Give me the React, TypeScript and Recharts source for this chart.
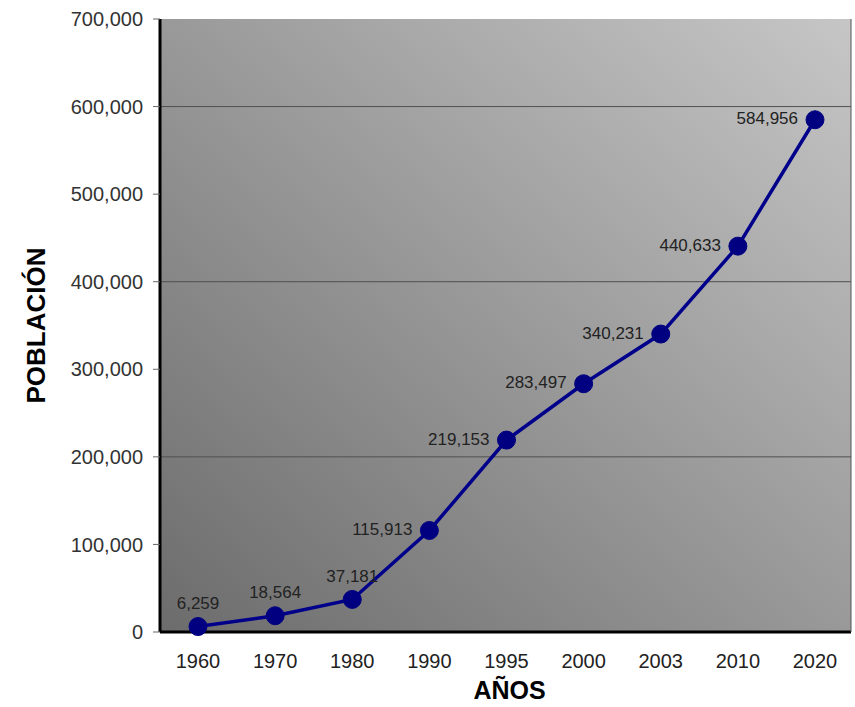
import React from 'react';
import { LineChart, Line, XAxis, YAxis, CartesianGrid, LabelList } from 'recharts';

const years = ['1960', '1970', '1980', '1990', '1995', '2000', '2003', '2010', '2020'];
const population = [6259, 18564, 37181, 115913, 219153, 283497, 340231, 440633, 584956];
const yTicks = [0, 100000, 200000, 300000, 400000, 500000, 600000, 700000];
const gridValues = [200000, 400000, 600000];
const aboveLabels = ['1960', '1970', '1980'];

const data = years.map((y, i) => ({ year: y, value: population[i] }));

const fmt = (v: number) => v.toLocaleString('en-US');
const FONT = 'Arial, "Liberation Sans", sans-serif';

const PointLabel = (props: any) => {
  const { x, y, value, index } = props;
  const yr = years[index];
  if (aboveLabels.includes(yr)) {
    return (
      <text x={x} y={y - 22} textAnchor="middle" dominantBaseline="middle" fontSize={17} fill="#222" fontFamily={FONT}>
        {fmt(value)}
      </text>
    );
  }
  return (
    <text x={x - 17} y={y} textAnchor="end" dominantBaseline="middle" fontSize={17} fill="#222" fontFamily={FONT}>
      {fmt(value)}
    </text>
  );
};

const YLabel = (props: any) => {
  const vb = props.viewBox || {};
  const cy = vb.y + vb.height / 2;
  return (
    <text x={38} y={cy} transform={`rotate(-90, 38, ${cy})`} textAnchor="middle" dominantBaseline="middle" fontSize={26} fontWeight="bold" fill="#000" fontFamily={FONT}>
      POBLACIÓN
    </text>
  );
};

const XLabel = (props: any) => {
  const vb = props.viewBox || {};
  const cx = vb.x + vb.width / 2;
  return (
    <text x={cx + 4} y={692} textAnchor="middle" dominantBaseline="middle" fontSize={25} fontWeight="bold" fill="#000" fontFamily={FONT}>
      AÑOS
    </text>
  );
};

export default function App() {
  return (
    <div style={{ position: 'absolute', left: 0, top: 0, width: 855, height: 707, background: '#fff' }}>
      <LineChart width={855} height={707} data={data} margin={{ top: 19, right: 2, bottom: 0, left: 0 }}>
        <defs>
          <linearGradient id="bg" x1="0" y1="1" x2="1" y2="0">
            <stop offset="0%" stopColor="#6c6c6c" />
            <stop offset="100%" stopColor="#c6c6c6" />
          </linearGradient>
        </defs>
        <CartesianGrid
          fill="url(#bg)"
          fillOpacity={1}
          vertical={false}
          horizontalValues={gridValues}
          stroke="#505050"
          strokeWidth={1}
        />
        <XAxis
          dataKey="year"
          padding={{ left: 38, right: 36 }}
          height={75}
          axisLine={{ stroke: '#000', strokeWidth: 3 }}
          tickLine={false}
          tick={{ fontSize: 20, fill: '#222', fontFamily: FONT }}
          tickMargin={16}
          interval={0}
          label={<XLabel />}
        />
        <XAxis xAxisId="top" orientation="top" dataKey="year" padding={{ left: 38, right: 36 }} height={0} tick={false} tickLine={false} axisLine={{ stroke: '#000', strokeWidth: 4 }} />
        <YAxis
          width={160}
          domain={[0, 700000]}
          ticks={yTicks}
          interval={0}
          tickFormatter={fmt}
          axisLine={{ stroke: '#000', strokeWidth: 3 }}
          tickLine={{ stroke: '#666', strokeWidth: 1 }}
          tickSize={7}
          tickMargin={10}
          tick={{ fontSize: 20, fill: '#333', fontFamily: FONT }}
          label={<YLabel />}
        />
        <YAxis yAxisId="right" orientation="right" width={2} tick={false} tickLine={false} axisLine={{ stroke: '#555', strokeWidth: 1 }} />
        <Line
          type="linear"
          dataKey="value"
          stroke="#00008b"
          strokeWidth={3.5}
          dot={{ r: 9, fill: '#000080', stroke: '#000080', strokeWidth: 1 }}
          isAnimationActive={false}
        >
          <LabelList dataKey="value" content={<PointLabel />} />
        </Line>
      </LineChart>
    </div>
  );
}
